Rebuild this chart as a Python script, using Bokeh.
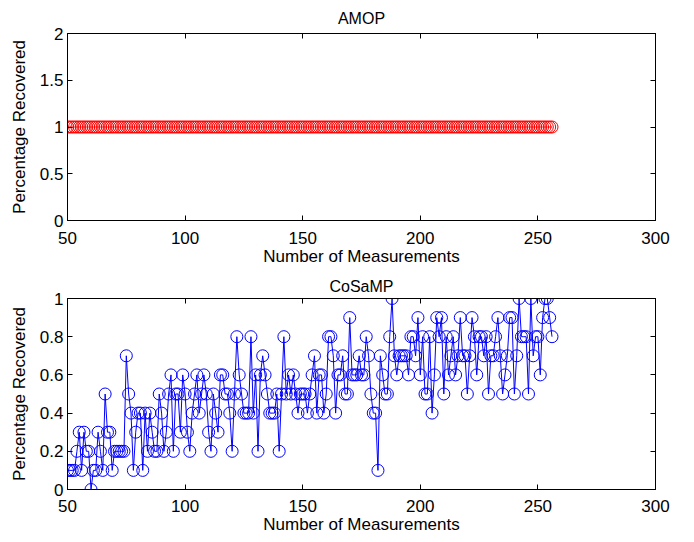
from bokeh.plotting import figure
from bokeh.layouts import column
from bokeh.models import Range1d, FixedTicker, LinearAxis, CustomJSTickFormatter
from bokeh.embed import file_html
from bokeh.resources import INLINE

# Number of measurements (x values)
measurements = list(range(50, 257))

# AMOP: percentage recovered (all 1)
amop = [
    1, 1, 1, 1, 1, 1, 1, 1, 1, 1, 1, 1, 1, 1, 1, 1, 1, 1, 1, 1,
    1, 1, 1, 1, 1, 1, 1, 1, 1, 1, 1, 1, 1, 1, 1, 1, 1, 1, 1, 1,
    1, 1, 1, 1, 1, 1, 1, 1, 1, 1, 1, 1, 1, 1, 1, 1, 1, 1, 1, 1,
    1, 1, 1, 1, 1, 1, 1, 1, 1, 1, 1, 1, 1, 1, 1, 1, 1, 1, 1, 1,
    1, 1, 1, 1, 1, 1, 1, 1, 1, 1, 1, 1, 1, 1, 1, 1, 1, 1, 1, 1,
    1, 1, 1, 1, 1, 1, 1, 1, 1, 1, 1, 1, 1, 1, 1, 1, 1, 1, 1, 1,
    1, 1, 1, 1, 1, 1, 1, 1, 1, 1, 1, 1, 1, 1, 1, 1, 1, 1, 1, 1,
    1, 1, 1, 1, 1, 1, 1, 1, 1, 1, 1, 1, 1, 1, 1, 1, 1, 1, 1, 1,
    1, 1, 1, 1, 1, 1, 1, 1, 1, 1, 1, 1, 1, 1, 1, 1, 1, 1, 1, 1,
    1, 1, 1, 1, 1, 1, 1, 1, 1, 1, 1, 1, 1, 1, 1, 1, 1, 1, 1, 1,
    1, 1, 1, 1, 1, 1, 1,
]

# CoSaMP: percentage recovered for x = 50..256
cosamp = [
    0.1, 0.1, 0.1, 0.1, 0.2, 0.3, 0.1, 0.3, 0.2, 0.2,   # 50-59
    0.0, 0.1, 0.1, 0.3, 0.2, 0.1, 0.5, 0.3, 0.3, 0.1,   # 60-69
    0.2, 0.2, 0.2, 0.2, 0.2, 0.7, 0.5, 0.4, 0.1, 0.3,   # 70-79
    0.4, 0.4, 0.1, 0.4, 0.2, 0.4, 0.3, 0.2, 0.2, 0.5,   # 80-89
    0.4, 0.2, 0.3, 0.5, 0.6, 0.2, 0.5, 0.5, 0.3, 0.6,   # 90-99
    0.5, 0.3, 0.2, 0.4, 0.5, 0.6, 0.4, 0.5, 0.6, 0.5,   # 100-109
    0.3, 0.2, 0.5, 0.4, 0.3, 0.6, 0.6, 0.5, 0.5, 0.4,   # 110-119
    0.2, 0.5, 0.8, 0.6, 0.5, 0.4, 0.4, 0.4, 0.8, 0.4,   # 120-129
    0.6, 0.2, 0.6, 0.7, 0.6, 0.5, 0.4, 0.4, 0.4, 0.5,   # 130-139
    0.2, 0.5, 0.8, 0.5, 0.6, 0.5, 0.6, 0.5, 0.4, 0.5,   # 140-149
    0.5, 0.5, 0.4, 0.5, 0.6, 0.7, 0.4, 0.6, 0.6, 0.4,   # 150-159
    0.5, 0.8, 0.8, 0.7, 0.4, 0.6, 0.6, 0.7, 0.5, 0.5,   # 160-169
    0.9, 0.6, 0.6, 0.6, 0.7, 0.6, 0.6, 0.8, 0.7, 0.5,   # 170-179
    0.4, 0.4, 0.1, 0.7, 0.6, 0.5, 0.5, 0.8, 1.0, 0.7,   # 180-189
    0.6, 0.7, 0.7, 0.7, 0.7, 0.6, 0.8, 0.8, 0.7, 0.9,   # 190-199
    0.6, 0.8, 0.5, 0.5, 0.8, 0.4, 0.6, 0.9, 0.8, 0.9,   # 200-209
    0.5, 0.8, 0.6, 0.7, 0.8, 0.6, 0.7, 0.9, 0.7, 0.7,   # 210-219
    0.5, 0.7, 0.9, 0.8, 0.6, 0.8, 0.8, 0.7, 0.8, 0.5,   # 220-229
    0.7, 0.7, 0.8, 0.9, 0.7, 0.5, 0.6, 0.7, 0.9, 0.9,   # 230-239
    0.5, 0.7, 1.0, 0.8, 0.8, 0.8, 0.5, 1.0, 0.7, 0.8,   # 240-249
    0.8, 0.6, 0.9, 1.0, 1.0, 0.9, 0.8,                  # 250-256
]

x_ticks = [50, 100, 150, 200, 250, 300]
top_y_ticks = [0, 0.5, 1, 1.5, 2]
top_y_labels = ["0", "0.5", "1", "1.5", "2"]
bottom_y_ticks = [0, 0.2, 0.4, 0.6, 0.8, 1]
bottom_y_labels = ["0", "0.2", "0.4", "0.6", "0.8", "1"]

FONT = "Liberation Sans"


def style_ticks(ax):
    ax.major_tick_in = 5
    ax.major_tick_out = 0
    ax.minor_tick_in = 0
    ax.minor_tick_out = 0
    ax.axis_line_color = "black"
    ax.major_tick_line_color = "black"


def make_fig(title, y_end, yticks, ylabels, border_top, border_bottom, title_standoff,
             tick_standoff):
    p = figure(width=694, height=271, output_backend="svg", toolbar_location=None,
               x_range=Range1d(50, 300), y_range=Range1d(0, y_end),
               min_border_left=67, min_border_right=39,
               min_border_top=border_top, min_border_bottom=border_bottom)
    p.title.text = title
    p.title.align = "center"
    p.title.text_font = FONT
    p.title.text_font_style = "normal"
    p.title.text_font_size = "16px"
    p.title.text_color = "black"
    p.title.offset = 0
    p.title.standoff = title_standoff
    p.grid.visible = False
    p.outline_line_color = "black"
    p.outline_line_alpha = 1
    p.outline_line_width = 1
    p.background_fill_color = "white"
    p.border_fill_color = "white"

    p.xaxis.ticker = FixedTicker(ticks=x_ticks)
    p.yaxis.ticker = FixedTicker(ticks=yticks)
    p.yaxis.major_label_overrides = {t: l for t, l in zip(yticks, ylabels)}
    p.xaxis.major_label_overrides = {t: str(t) for t in x_ticks}
    p.xaxis.axis_label = "Number of Measurements"
    p.yaxis.axis_label = "Percentage Recovered"
    for ax in (p.xaxis, p.yaxis):
        style_ticks(ax)
        ax.major_label_text_font = FONT
        ax.major_label_text_font_size = "17px"
        ax.major_label_text_color = "black"
        ax.axis_label_text_font = FONT
        ax.axis_label_text_font_size = "17px"
        ax.axis_label_text_font_style = "normal"
        ax.axis_label_text_color = "black"
    p.xaxis.major_label_standoff = tick_standoff
    p.xaxis.axis_label_standoff = 0
    p.yaxis.major_label_standoff = 4
    p.yaxis.axis_label_standoff = 8

    # box ticks on top and right (no labels)
    top_ax = LinearAxis(ticker=FixedTicker(ticks=x_ticks),
                        formatter=CustomJSTickFormatter(code="return ''"))
    right_ax = LinearAxis(ticker=FixedTicker(ticks=yticks),
                          formatter=CustomJSTickFormatter(code="return ''"))
    for ax in (top_ax, right_ax):
        style_ticks(ax)
        ax.major_label_standoff = 0
    p.add_layout(top_ax, "above")
    p.add_layout(right_ax, "right")
    return p


p1 = make_fig("AMOP", 2, top_y_ticks, top_y_labels, 33, 51, 13, 11)
p1.line(measurements, amop, line_color="red", line_width=1)
p1.scatter(measurements, amop, marker="circle", size=12, fill_color=None,
           line_color="red", line_width=1)

p2 = make_fig("CoSaMP", 1, bottom_y_ticks, bottom_y_labels, 27, 53, 7, 10)
p2.line(measurements, cosamp, line_color="blue", line_width=1)
p2.scatter(measurements, cosamp, marker="circle", size=12, fill_color=None,
           line_color="blue", line_width=1)

layout = column(p1, p2, spacing=0)
open("out.html", "w").write(file_html(layout, INLINE))
